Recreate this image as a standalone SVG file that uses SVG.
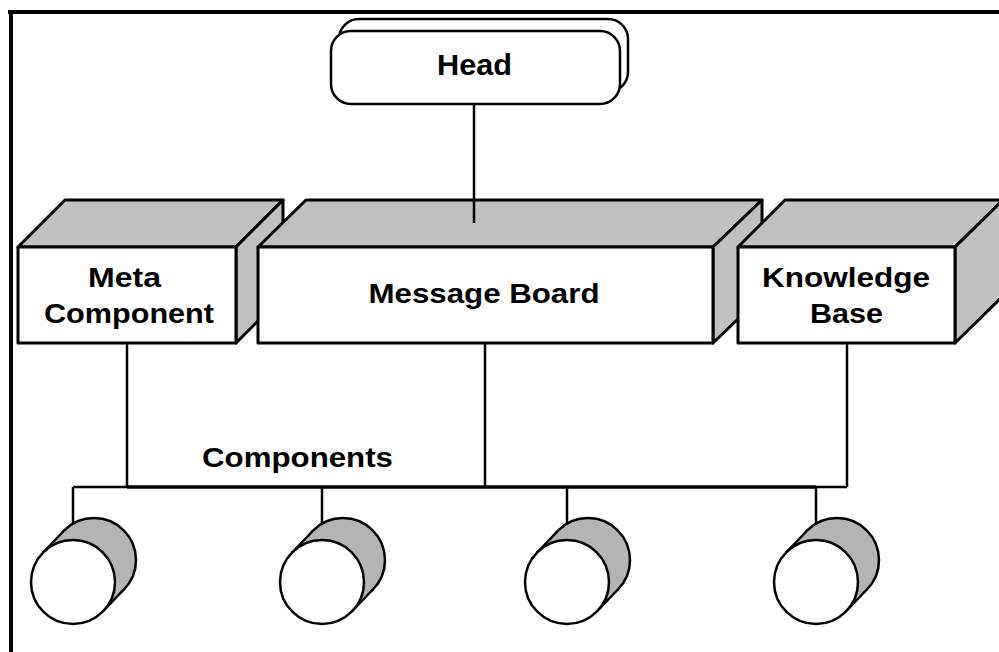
<svg xmlns="http://www.w3.org/2000/svg" xmlns:xlink="http://www.w3.org/1999/xlink" width="999" height="652" viewBox="0 0 999 652">
<style>
.frame{stroke:#000;stroke-width:4;fill:none}
.face{fill:#fff;stroke:#000;stroke-width:3;stroke-linejoin:round}
.shade{fill:#c0c0c0;stroke:#000;stroke-width:3;stroke-linejoin:round}
.head{fill:#fff;stroke:#000;stroke-width:2.5}
.wire{stroke:#000;stroke-width:2.5;fill:none}
.bus{stroke:#000;stroke-width:3.5;fill:none}
.lbl{font-family:"Liberation Sans",Arial,sans-serif;font-weight:bold;font-size:28px;fill:#000;text-anchor:middle}
.big{font-size:30px}
.cshade{fill:#b4b4b4;stroke:#000;stroke-width:2.5}
.cband{fill:#b4b4b4;stroke:none}
.cline{stroke:#000;stroke-width:2.5}
.cface{fill:#fff;stroke:#000;stroke-width:2.5}
</style>
<defs>
<g id="cyl">
<circle class="cshade" cx="21" cy="-22" r="42"/>
<polygon class="cband" points="-30.3,-29 -9.3,-51 51.3,7 30.3,29"/>
<line class="cline" x1="-30.3" y1="-29" x2="-9.3" y2="-51"/>
<line class="cline" x1="30.3" y1="29" x2="51.3" y2="7"/>
<circle class="cface" cx="0" cy="0" r="42"/>
</g>
</defs>
<rect width="999" height="652" fill="#fff"/>
<g id="frame">
<line class="frame" x1="8" y1="12" x2="999" y2="12"/>
<line class="frame" x1="11" y1="12" x2="11" y2="652"/>
</g>
<g id="connectors">
<line class="wire" x1="474" y1="104" x2="474" y2="223"/>
<line class="wire" x1="127" y1="343" x2="127" y2="487"/>
<line class="wire" x1="485" y1="343" x2="485" y2="487"/>
<line class="wire" x1="847" y1="343" x2="847" y2="487"/>
<line class="wire" x1="73" y1="487" x2="127" y2="487"/>
<line class="bus" x1="127" y1="487" x2="816" y2="487"/>
<line class="wire" x1="816" y1="487" x2="847" y2="487"/>
<line class="wire" x1="73" y1="487" x2="73" y2="540"/>
<line class="wire" x1="322" y1="487" x2="322" y2="540"/>
<line class="wire" x1="567" y1="487" x2="567" y2="540"/>
<line class="wire" x1="816" y1="487" x2="816" y2="540"/>
</g>
<g id="head">
<rect class="head" x="339" y="19" width="289" height="73" rx="20"/>
<rect class="head" x="331" y="31" width="289" height="73" rx="20"/>
<text class="lbl big" x="474.5" y="75" textLength="75" lengthAdjust="spacingAndGlyphs">Head</text>
</g>
<g id="meta">
<polygon class="shade" points="18,247 65,200 283,200 236,247"/>
<polygon class="shade" points="236,247 283,200 283,296 236,343"/>
<rect class="face" x="18" y="247" width="218" height="96"/>
<text class="lbl" x="124.5" y="287" textLength="73" lengthAdjust="spacingAndGlyphs">Meta</text>
<text class="lbl" x="129" y="323" textLength="170" lengthAdjust="spacingAndGlyphs">Component</text>
</g>
<g id="board">
<polygon class="shade" points="258,247 306,200 762,200 713,247"/>
<polygon class="shade" points="713,247 762,200 762,296 713,343"/>
<rect class="face" x="258" y="247" width="455" height="96"/>
<line class="wire" x1="474" y1="200" x2="474" y2="223"/>
<text class="lbl" x="484" y="303" textLength="231" lengthAdjust="spacingAndGlyphs">Message Board</text>
</g>
<g id="kb">
<polygon class="shade" points="738,247 785,200 1003,200 955,247"/>
<polygon class="shade" points="955,247 1003,200 1003,296 955,343"/>
<rect class="face" x="738" y="247" width="217" height="96"/>
<text class="lbl" x="846" y="287" textLength="168" lengthAdjust="spacingAndGlyphs">Knowledge</text>
<text class="lbl" x="846.5" y="323" textLength="73" lengthAdjust="spacingAndGlyphs">Base</text>
</g>
<g id="components-label">
<text class="lbl" x="297.5" y="467" textLength="191" lengthAdjust="spacingAndGlyphs">Components</text>
</g>
<g id="comp1" transform="translate(73,582)"><use xlink:href="#cyl"/></g>
<g id="comp2" transform="translate(322,582)"><use xlink:href="#cyl"/></g>
<g id="comp3" transform="translate(567,582)"><use xlink:href="#cyl"/></g>
<g id="comp4" transform="translate(816,582)"><use xlink:href="#cyl"/></g>
</svg>
